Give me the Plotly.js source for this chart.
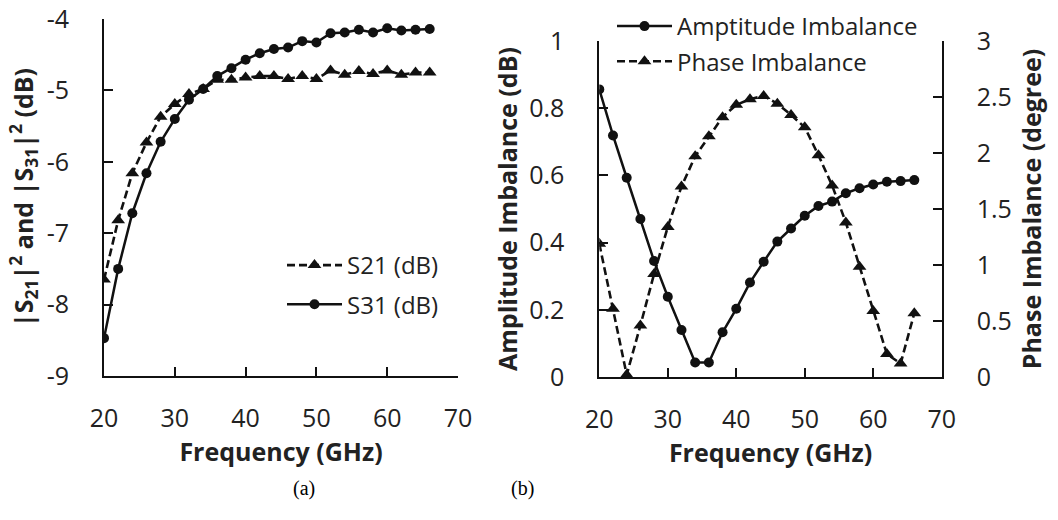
<!DOCTYPE html>
<html>
<head>
<meta charset="utf-8">
<script src="https://cdn.plot.ly/plotly-3.0.1.min.js"></script>
<style>
  html, body { margin: 0; padding: 0; background: #fff; }
  #chart { width: 1058px; height: 520px; }
</style>
</head>
<body>
<div id="chart"></div>
<script>
// Frequency sweep (GHz), shared by both panels
const freq = [20, 22, 24, 26, 28, 30, 32, 34, 36, 38, 40, 42, 44, 46, 48, 50, 52, 54, 56, 58, 60, 62, 64, 66];

// Panel (a): transmission to the two output ports (dB)
const s21 = [-7.65, -6.82, -6.16, -5.73, -5.37, -5.19, -5.05, -4.98, -4.85, -4.85, -4.82, -4.80,
             -4.80, -4.84, -4.80, -4.84, -4.72, -4.78, -4.73, -4.77, -4.72, -4.78, -4.75, -4.75];
const s31 = [-8.47, -7.50, -6.72, -6.16, -5.72, -5.40, -5.13, -4.98, -4.80, -4.69, -4.57, -4.48,
             -4.42, -4.40, -4.31, -4.33, -4.20, -4.19, -4.15, -4.19, -4.13, -4.16, -4.15, -4.14];

// Panel (b): output imbalance
const ampImb = [0.856, 0.719, 0.593, 0.470, 0.345, 0.239, 0.140, 0.043, 0.043, 0.133, 0.203, 0.281,
                0.343, 0.403, 0.442, 0.480, 0.509, 0.522, 0.547, 0.562, 0.573, 0.581, 0.583, 0.586];
const phaseImb = [1.19, 0.61, 0.02, 0.46, 0.92, 1.34, 1.70, 1.97, 2.15, 2.32, 2.43, 2.48,
                  2.51, 2.44, 2.34, 2.23, 1.98, 1.71, 1.38, 0.985, 0.59, 0.205, 0.12, 0.57];

// Tick labels
const freqTicks = [20, 30, 40, 50, 60, 70];
const sTicks = [-9, -8, -7, -6, -5, -4];
const sTickText = ['-9', '-8', '-7', '-6', '-5', '-4'];

const W = 1058, H = 520;
const px = v => v / W;
const py = v => 1 - v / H;

const FONT = 'Open Sans, Noto Sans, sans-serif';
const INK = '#111';
const DASH = '8px,4px';

const traces = [
  {
    x: freq, y: s21, name: 'S21 (dB)', xaxis: 'x', yaxis: 'y', legend: 'legend', legendgroup: 'a1',
    mode: 'lines+markers',
    line: { color: INK, width: 2.6, dash: DASH },
    marker: { symbol: 'triangle-up', size: 12, color: INK }
  },
  {
    x: freq, y: s31, name: 'S31 (dB)', xaxis: 'x', yaxis: 'y', legend: 'legend', legendgroup: 'a2',
    mode: 'lines+markers',
    line: { color: INK, width: 2.5 },
    marker: { symbol: 'circle', size: 10, color: INK }
  },
  {
    x: freq, y: ampImb, name: 'Amptitude Imbalance', xaxis: 'x2', yaxis: 'y2', legend: 'legend2', legendgroup: 'b1',
    mode: 'lines+markers',
    line: { color: INK, width: 2.5 },
    marker: { symbol: 'circle', size: 10, color: INK }
  },
  {
    x: freq, y: phaseImb, name: 'Phase Imbalance', xaxis: 'x2', yaxis: 'y3', legend: 'legend2', legendgroup: 'b2',
    mode: 'lines+markers',
    line: { color: INK, width: 2.6, dash: DASH },
    marker: { symbol: 'triangle-up', size: 12, color: INK }
  }
];

const axisCommon = {
  showgrid: false, zeroline: false, showline: true,
  linecolor: INK, linewidth: 2,
  ticks: 'inside', ticklen: 9, tickwidth: 2, tickcolor: INK,
  tickfont: { family: FONT, size: 25, color: '#222' },
  fixedrange: true
};
const titleFont = { family: FONT, size: 25, color: '#222', weight: 'bold' };

const layout = {
  width: W, height: H,
  margin: { l: 0, r: 0, t: 0, b: 0 },
  paper_bgcolor: '#fff', plot_bgcolor: 'rgba(0,0,0,0)',
  showlegend: true,
  xaxis: Object.assign({}, axisCommon, {
    domain: [px(104), px(458)], anchor: 'y', range: [20, 70],
    tickvals: freqTicks, ticklabelstandoff: 19,
    title: { text: 'Frequency (GHz)', font: titleFont, standoff: 2 }
  }),
  yaxis: Object.assign({}, axisCommon, {
    domain: [py(376), py(19)], anchor: 'x', range: [-9, -4],
    tickvals: sTicks, ticktext: sTickText, ticklabelstandoff: 28,
    title: { text: '|S<sub>21</sub>|<sup>2</sup> and |S<sub>31</sub>|<sup>2</sup> (dB)', font: titleFont, standoff: 6 }
  }),
  xaxis2: Object.assign({}, axisCommon, {
    domain: [px(599.3), px(941.7)], anchor: 'y2', range: [20, 70],
    tickvals: freqTicks, ticklabelstandoff: 19,
    title: { text: 'Frequency (GHz)', font: titleFont, standoff: 2 }
  }),
  yaxis2: Object.assign({}, axisCommon, {
    domain: [py(377), py(41)], anchor: 'x2', range: [0, 1], dtick: 0.2, tick0: 0,
    ticklabelstandoff: 28,
    title: { text: 'Amplitude Imbalance (dB)', font: titleFont, standoff: 4 }
  }),
  yaxis3: Object.assign({}, axisCommon, {
    domain: [py(377), py(41)], anchor: 'x2', overlaying: 'y2', side: 'right',
    range: [0, 3], dtick: 0.5, tick0: 0, ticklabelstandoff: 28,
    title: { text: 'Phase Imbalance (degree)', font: titleFont, standoff: 13 }
  }),
  legend: {
    x: px(282), y: py(243), xanchor: 'left', yanchor: 'top',
    bgcolor: 'rgba(0,0,0,0)', borderwidth: 0,
    font: { family: FONT, size: 24, color: '#222' },
    itemwidth: 55, tracegroupgap: 5
  },
  legend2: {
    x: px(612), y: py(4), xanchor: 'left', yanchor: 'top',
    bgcolor: 'rgba(0,0,0,0)', borderwidth: 0,
    font: { family: FONT, size: 24, color: '#222' },
    itemwidth: 55, tracegroupgap: 1
  },
  annotations: [
    { text: '(a)', x: px(291), y: py(502), xref: 'paper', yref: 'paper', showarrow: false,
      font: { family: 'Liberation Serif, serif', size: 20, color: '#000' } },
    { text: '(b)', x: px(522), y: py(502), xref: 'paper', yref: 'paper', showarrow: false,
      font: { family: 'Liberation Serif, serif', size: 20, color: '#000' } }
  ]
};

Plotly.newPlot('chart', traces, layout, { displayModeBar: false, staticPlot: true });
</script>
</body>
</html>
